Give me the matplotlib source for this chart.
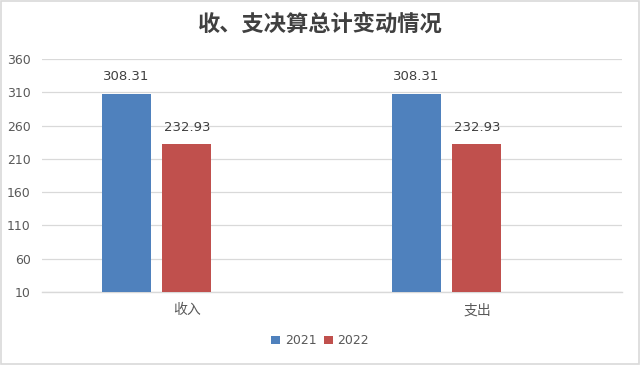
import matplotlib
matplotlib.use("Agg")
import matplotlib.pyplot as plt
import numpy as np
from matplotlib.patches import Rectangle

plt.rcParams['font.family'] = ['Noto Sans CJK SC', 'DejaVu Sans']

# data
categories = ["收入", "支出"]
years = ["2021", "2022"]
v2021 = [308.31, 308.31]
v2022 = [232.93, 232.93]
yticks = [10, 60, 110, 160, 210, 260, 310, 360]

C_2021 = "#4F81BD"
C_2022 = "#C0504D"
C_GRID = "#D9D9D9"
C_TEXT = "#595959"

fig = plt.figure(figsize=(6.4, 3.65), dpi=100)
fig.patch.set_facecolor("white")
ax = fig.add_axes([0.0656, 0.2, 0.9062, 0.638])

x = np.arange(len(categories))
w = 0.169
off = 0.21
b1 = ax.bar(x - off, v2021, width=w, color=C_2021, label=years[0], zorder=3)
b2 = ax.bar(x, v2022, width=w, color=C_2022, label=years[1], zorder=3)

for bars, vals in ((b1, v2021), (b2, v2022)):
    for r, v in zip(bars, vals):
        ax.annotate(f"{v:.2f}", (r.get_x() + r.get_width() / 2, v),
                    xytext=(0, 12), textcoords="offset points",
                    ha="center", va="center", fontsize=9.5, color="#404040",
                    family=["DejaVu Sans"])

ax.set_xlim(-0.5, 1.5)
ax.set_ylim(10, 360)
ax.set_yticks(yticks)
ax.set_yticklabels([str(t) for t in yticks], fontsize=9, color=C_TEXT,
                   family=["DejaVu Sans"])
ax.set_xticks(x)
ax.set_xticklabels(categories, fontsize=10, color=C_TEXT)
ax.tick_params(axis="both", length=0, pad=8)
ax.grid(axis="y", color=C_GRID, linewidth=0.9, zorder=0)
ax.axhline(10, color=C_GRID, linewidth=1.0, zorder=2, clip_on=False)
for s in ax.spines.values():
    s.set_visible(False)

fig.text(0.5, 0.934, "收、支决算总计变动情况", ha="center", va="center",
         fontsize=16, fontweight="bold", color="#404040")

leg = fig.legend(handles=[b1, b2], labels=years, loc="center",
                 bbox_to_anchor=(0.5, 0.066), ncol=2, frameon=False,
                 handlelength=0.7, handleheight=0.7,
                 handletextpad=0.4, columnspacing=0.6,
                 prop={"family": ["DejaVu Sans"], "size": 9})
for t in leg.get_texts():
    t.set_color(C_TEXT)

fig.add_artist(Rectangle((0.002, 0.003), 0.996, 0.994, transform=fig.transFigure,
                         fill=False, edgecolor=C_GRID, linewidth=1.2))

fig.savefig("out.png", dpi=100, facecolor="white")
